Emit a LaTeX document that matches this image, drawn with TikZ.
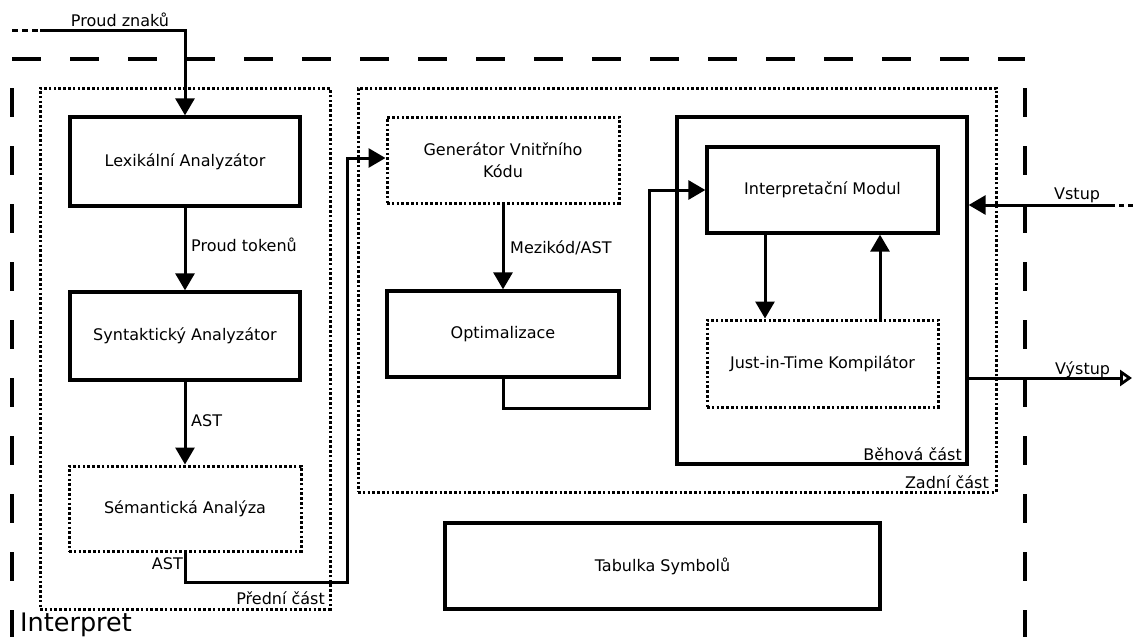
\documentclass[tikz,border=0pt]{standalone}
\usepackage{fontspec}
\setmainfont{DejaVu Sans}
\usetikzlibrary{arrows.meta}

\tikzset{
  txt/.style={font=\fontsize{16}{19}\selectfont, inner sep=0pt},
  solidbox/.style={draw, line width=3.3pt, inner sep=0pt, align=center,
                   font=\fontsize{16}{22}\selectfont},
  dotbox/.style={draw, line width=3pt, dash pattern=on 2.6pt off 2.2pt,
                 inner sep=0pt, align=center, font=\fontsize{16}{22}\selectfont},
  groupdot/.style={draw, line width=3pt, dash pattern=on 2.6pt off 2.2pt, inner sep=0pt},
  groupsolid/.style={draw, line width=3.3pt, inner sep=0pt},
  frame/.style={line width=3.3pt, dash pattern=on 29pt off 29pt},
  conn/.style={line width=3pt, -{Triangle[length=17pt,width=19pt]}},
  outconn/.style={line width=3pt, -{Triangle[open,length=12pt,width=16pt,line width=2.8pt]}},
  plain/.style={line width=3pt},
  loose/.style={line width=3pt, dash pattern=on 6pt off 4pt},
}

\begin{document}
\begin{tikzpicture}[x=1pt,y=-1pt]
  \useasboundingbox (0,0) rectangle (1133,637);

  % outer dashed frame of the interpreter
  \draw[frame] (12,59) -- (1025,59);
  \draw[frame] (12,88) -- (12,640);
  \draw[frame] (1025,88) -- (1025,640);
  \node[txt, anchor=base west, font=\fontsize{25.5}{30}\selectfont] (interp-title) at (20,631) {Interpret};

  % front end group
  \node[groupdot, minimum width=290pt, minimum height=521pt] (front) at (185,348.5) {};
  \node[txt, anchor=base east] (front-lbl) at (325,604) {Přední část};

  % back end group
  \node[groupdot, minimum width=638pt, minimum height=404pt] (back) at (677,290) {};
  \node[txt, anchor=base east] (back-lbl) at (989,488) {Zadní část};

  % runtime group
  \node[groupsolid, minimum width=290pt, minimum height=347pt] (run) at (822,290.5) {};
  \node[txt, anchor=base east] (run-lbl) at (962,460) {Běhová část};

  % front end stages
  \node[solidbox, minimum width=230pt, minimum height=89pt] (lex) at (185,161.5) {Lexikální Analyzátor};
  \node[solidbox, minimum width=230pt, minimum height=88pt] (syn) at (185,336) {Syntaktický Analyzátor};
  \node[dotbox, minimum width=232pt, minimum height=85pt] (sem) at (185,508.5) {Sémantická Analýza};

  % back end stages
  \node[dotbox, minimum width=232pt, minimum height=86pt] (gen) at (503,160) {Generátor Vnitřního\\Kódu};
  \node[solidbox, minimum width=232pt, minimum height=86pt] (opt) at (503,334) {Optimalizace};

  % runtime stages
  \node[solidbox, minimum width=231pt, minimum height=86pt] (interp) at (822.5,190) {Interpretační Modul};
  \node[dotbox, minimum width=231pt, minimum height=87pt] (jit) at (822.5,363.5) {Just-in-Time Kompilátor};

  % symbol table
  \node[solidbox, minimum width=435pt, minimum height=86pt] (sym) at (662.5,566) {Tabulka Symbolů};

  % character stream into the lexer
  \coordinate (pz-start) at (12,30);
  \coordinate (pz-bend) at (40,30);
  \draw[loose] (pz-start) -- (pz-bend);
  \draw[conn] (pz-bend) -| (lex.north);
  \node[txt, anchor=base] (pz-lbl) at (120,27) {Proud znaků};

  % lexer -> parser -> semantic analysis
  \draw[conn] (lex) -- (syn);
  \node[txt, anchor=west] (tok-lbl) at (191,245) {Proud tokenů};
  \draw[conn] (syn) -- (sem);
  \node[txt, anchor=west] (ast1-lbl) at (191,421) {AST};

  % semantic analysis -> code generator
  \coordinate (a-bend) at (347,582);
  \draw[conn] (sem.south) |- (a-bend) |- ([yshift=2pt]gen.west);
  \node[txt, anchor=east] (ast2-lbl) at (183,564) {AST};

  % code generator -> optimiser
  \draw[conn] (gen) -- (opt);
  \node[txt, anchor=west] (mez-lbl) at (510,248) {Mezikód/AST};

  % optimiser -> interpreter module
  \coordinate (b-bend) at (649,408);
  \draw[conn] (opt.south) |- (b-bend) |- (interp.west);

  % interpreter <-> JIT
  \draw[conn] ([xshift=-57.5pt]interp.south) -- ([xshift=-57.5pt]jit.north);
  \draw[conn] ([xshift=57.5pt]jit.north) -- ([xshift=57.5pt]interp.south);

  % input
  \coordinate (in-end) at (1133,205);
  \coordinate (in-bend) at (1110,205);
  \draw[plain, dash pattern=on 5pt off 4pt] (in-end) -- (in-bend);
  \draw[conn] (in-bend) -- (in-bend -| run.east);
  \node[txt, anchor=base west] (in-lbl) at (1054,199) {Vstup};

  % output
  \coordinate (out-end) at (1132,378);
  \draw[outconn] (out-end -| run.east) -- (out-end);
  \node[txt, anchor=base west] (out-lbl) at (1055,374) {Výstup};
\end{tikzpicture}
\end{document}
